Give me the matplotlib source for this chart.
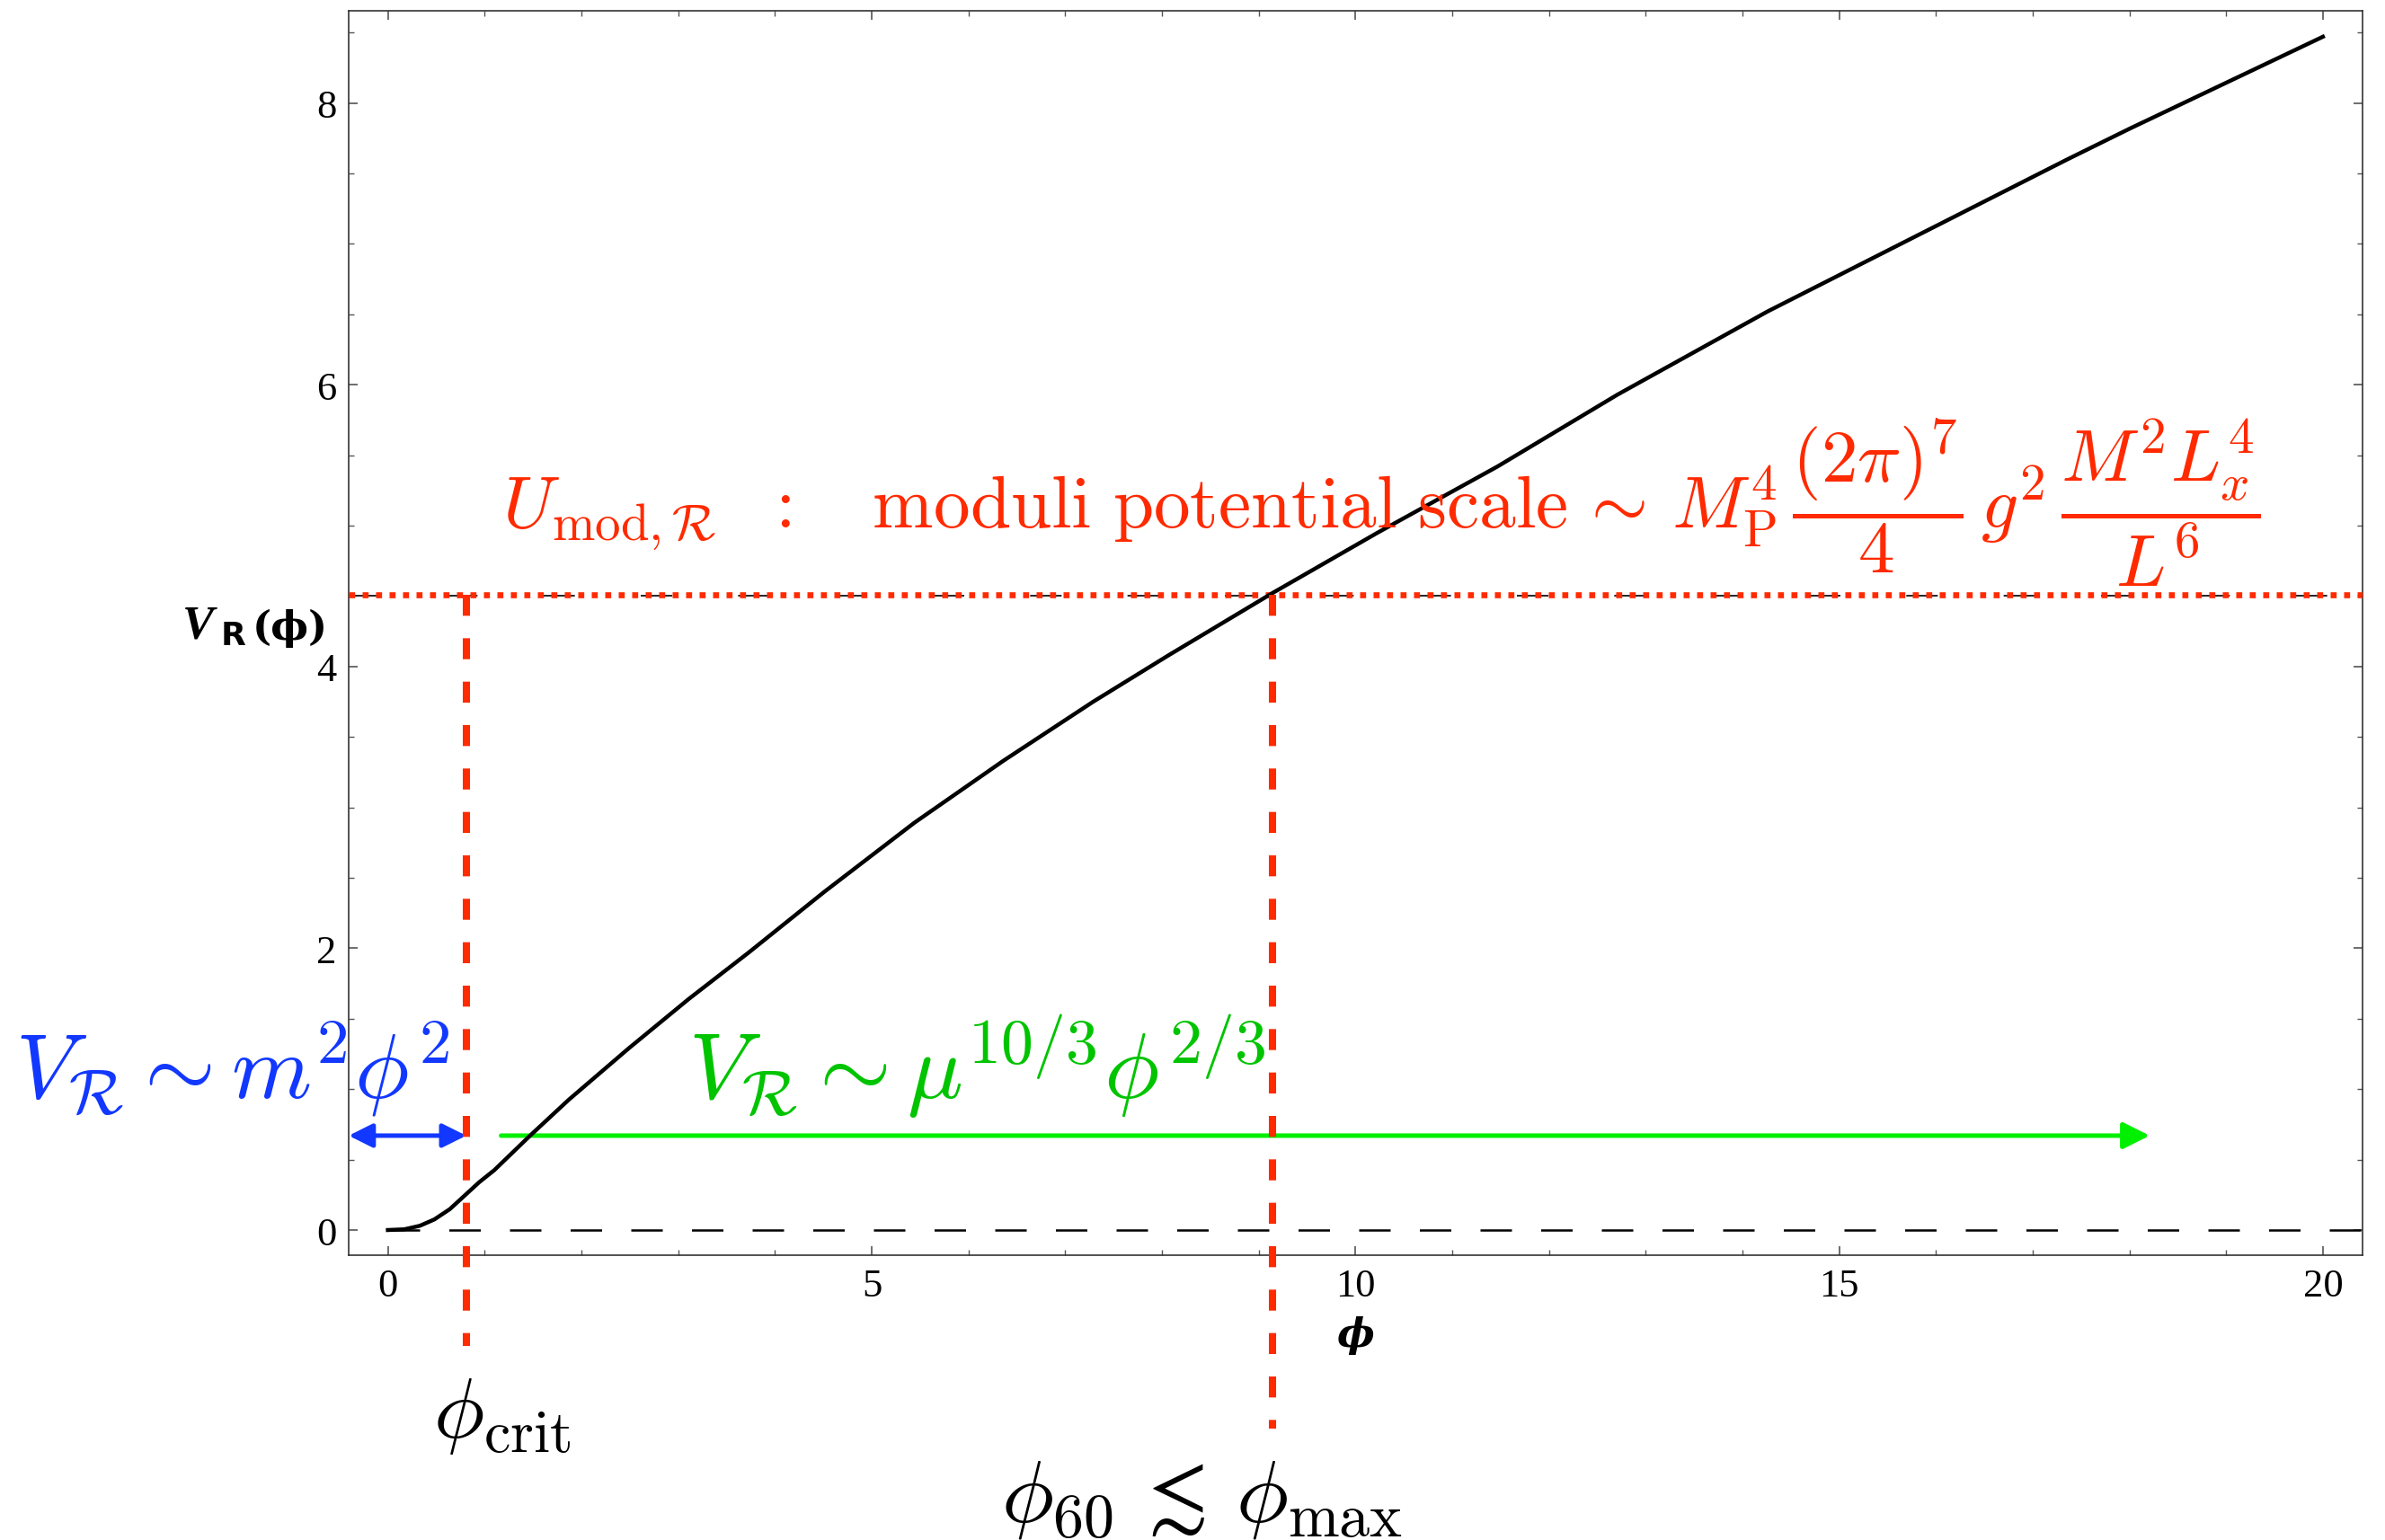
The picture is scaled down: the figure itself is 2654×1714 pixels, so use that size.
import matplotlib
matplotlib.use('Agg')
import matplotlib.pyplot as plt
from matplotlib.ticker import MultipleLocator

plt.rcParams['mathtext.fontset'] = 'cm'

# potential V_R(phi)
phi = [0, 0.17, 0.33, 0.48, 0.64, 0.81, 0.945, 1.10, 1.47, 1.87, 2.49, 3.11, 3.73,
       4.51, 5.44, 6.36, 7.29, 8.07, 9.14, 10.23, 11.47, 12.71, 14.26, 15.81, 17.36,
       18.01, 20.0]
V = [0, 0.005, 0.03, 0.075, 0.148, 0.255, 0.34, 0.425, 0.67, 0.925, 1.29, 1.64, 1.97,
     2.40, 2.89, 3.33, 3.75, 4.08, 4.52, 4.95, 5.42, 5.93, 6.52, 7.06, 7.60,
     7.82, 8.47]

# marked levels
U_mod = 4.51
phi_crit = 0.81
phi_max = 9.14
arrow_level = 0.67
phi_arrow_start = 1.17
phi_arrow_end = 18.21

RED = '#ff2a00'
BLUE = '#1238ff'
GREEN_TXT = '#00c400'
GREEN_ARROW = '#00f000'

fig = plt.figure(figsize=(26.54, 17.15), dpi=100)
ax = fig.add_axes([0.1462, 0.1848, 0.9906 - 0.1462, 0.9924 - 0.1848])

xlim = (-0.405, 20.41)
ylim = (-0.179, 8.654)

# zero line and the curve
ax.hlines(0, 0, xlim[1], colors='black', lw=1.8, linestyles=(0, (14, 13)), zorder=2)
ax.plot(phi, V, color='black', lw=3.2, zorder=4, solid_joinstyle='round')

# moduli potential scale
ax.axhline(U_mod - 0.01, color='black', lw=1.2, ls=(0, (21, 44)), zorder=2)
ax.axhline(U_mod, color=RED, lw=4.8, ls=(0, (1, 1.25)), dash_capstyle='butt', zorder=3)

# vertical markers running below the axes
ax.plot([phi_crit, phi_crit], [U_mod, -0.82], color=RED, lw=5.8,
        ls=(0, (2.9, 3.1)), dash_capstyle='butt', clip_on=False, zorder=5)
ax.plot([phi_max, phi_max], [U_mod, -1.41], color=RED, lw=5.8,
        ls=(0, (2.9, 3.1)), dash_capstyle='butt', clip_on=False, zorder=5)

# regime arrows
ax.annotate('', xy=(phi_arrow_end, arrow_level), xytext=(phi_arrow_start, arrow_level),
            arrowprops=dict(arrowstyle='-|>,head_length=0.4,head_width=0.2',
                            mutation_scale=45, color=GREEN_ARROW, lw=3.6,
                            shrinkA=0, shrinkB=0), zorder=3)
ax.annotate('', xy=(phi_crit, arrow_level), xytext=(xlim[0], arrow_level),
            arrowprops=dict(arrowstyle='<|-|>,head_length=0.4,head_width=0.2',
                            mutation_scale=40, color=BLUE, lw=3.6,
                            shrinkA=0, shrinkB=0), zorder=3)

# labels
ax.text(1.18, 4.99,
        r'$U_{\mathrm{mod},\mathcal{R}}\ \ :\ \ \ \mathrm{moduli\ potential\ scale}\,\sim\,'
        r'M_{\mathrm{P}}^{4}\,\dfrac{(2\pi)^{7}}{4}\,g^{2}\,\dfrac{M^{2}L_{x}^{4}}{L^{6}}$',
        color=RED, fontsize=58.5, ha='left', va='baseline', zorder=6)
ax.text(-3.85, 0.94, r'$V_{\mathcal{R}} \sim m^{2}\phi^{2}$', color=BLUE,
        fontsize=73, ha='left', va='baseline', clip_on=False, zorder=6)
ax.text(3.11, 0.94, r'$V_{\mathcal{R}} \sim \mu^{10/3}\phi^{2/3}$', color=GREEN_TXT,
        fontsize=74, ha='left', va='baseline', zorder=6)
ax.text(0.47, -1.47, r'$\phi_{\mathrm{crit}}$', color='black', fontsize=68,
        ha='left', va='baseline', clip_on=False)
ax.text(6.34, -2.06, r'$\phi_{60}\,\lesssim\,\phi_{\mathrm{max}}$', color='black',
        fontsize=70, ha='left', va='baseline', clip_on=False)

# axis labels
ax.text(10.0, -0.74, '\u03d5', fontsize=32, fontweight='bold', style='italic',
        family='DejaVu Serif', ha='center', va='center', clip_on=False)
t1 = ax.text(-2.12, 4.29, 'V', fontsize=38, fontweight='bold', style='italic',
             family='Liberation Serif', ha='left', va='center', clip_on=False)
t2 = ax.annotate('R', xy=(1, 0), xycoords=t1, xytext=(5, -3), textcoords='offset points',
                 fontsize=26, fontweight='bold', family='DejaVu Sans',
                 ha='left', va='bottom', annotation_clip=False)
ax.annotate('(\u03d5)', xy=(1, 0), xycoords=t2, xytext=(5, 3), textcoords='offset points',
            fontsize=32, fontweight='bold', family='DejaVu Serif',
            ha='left', va='bottom', annotation_clip=False)

ax.set_xlim(*xlim)
ax.set_ylim(*ylim)
ax.xaxis.set_major_locator(MultipleLocator(5))
ax.xaxis.set_minor_locator(MultipleLocator(1))
ax.yaxis.set_major_locator(MultipleLocator(2))
ax.yaxis.set_minor_locator(MultipleLocator(0.5))
ax.tick_params(which='both', direction='in', top=True, right=True, color='#555555')
ax.tick_params(which='major', length=7, width=1.2, labelsize=32, pad=10)
ax.tick_params(which='minor', length=4, width=1.0)
for lab in ax.get_xticklabels() + ax.get_yticklabels():
    lab.set_family('Liberation Serif')
for sp in ax.spines.values():
    sp.set_linewidth(1.2)
    sp.set_color('#333333')

fig.savefig('out.png', dpi=100)
